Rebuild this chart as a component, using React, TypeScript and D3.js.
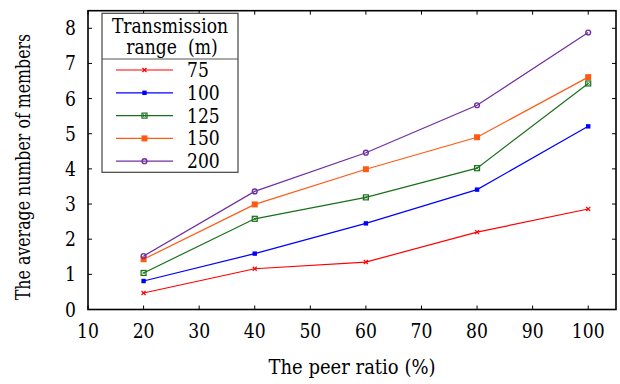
import React from "react";
import * as d3 from "d3";

const peerRatios = [20, 40, 60, 80, 100];
const range75 = [0.47, 1.16, 1.35, 2.2, 2.86];
const range100 = [0.81, 1.59, 2.45, 3.41, 5.21];
const range125 = [1.04, 2.58, 3.19, 4.02, 6.43];
const range150 = [1.43, 2.99, 3.99, 4.9, 6.61];
const range200 = [1.52, 3.36, 4.46, 5.81, 7.88];
const seriesLabels = ["75", "100", "125", "150", "200"];
const xTicks = [10, 20, 30, 40, 50, 60, 70, 80, 90, 100];
const yTicks = [0, 1, 2, 3, 4, 5, 6, 7, 8];

const W = 620;
const H = 384;
const FONT = '"DejaVu Serif", serif';
const SX = 0.86;

type Marker = "x" | "sq" | "osq" | "bsq" | "circ";
const seriesStyle: { color: string; marker: Marker }[] = [
  { color: "#ff0000", marker: "x" },
  { color: "#0000ff", marker: "sq" },
  { color: "#1a701a", marker: "osq" },
  { color: "#ff5a14", marker: "bsq" },
  { color: "#7030a0", marker: "circ" },
];

function MarkerShape({ x, y, type, color }: { x: number; y: number; type: Marker; color: string }) {
  switch (type) {
    case "x":
      return (
        <g stroke={color} strokeWidth={1.2}>
          <line x1={x - 2} y1={y - 2} x2={x + 2} y2={y + 2} />
          <line x1={x - 2} y1={y + 2} x2={x + 2} y2={y - 2} />
        </g>
      );
    case "sq":
      return <rect x={x - 2.2} y={y - 2.2} width={4.4} height={4.4} fill={color} />;
    case "osq":
      return (
        <g>
          <rect x={x - 2.5} y={y - 2.5} width={5} height={5} fill="none" stroke={color} strokeWidth={1.2} />
          <line x1={x - 1.5} y1={y - 1.5} x2={x + 1.5} y2={y + 1.5} stroke={color} strokeWidth={0.8} />
          <line x1={x - 1.5} y1={y + 1.5} x2={x + 1.5} y2={y - 1.5} stroke={color} strokeWidth={0.8} />
        </g>
      );
    case "bsq":
      return <rect x={x - 3} y={y - 3} width={6} height={6} fill={color} />;
    case "circ":
      return <circle cx={x} cy={y} r={2.4} fill="none" stroke={color} strokeWidth={1.4} />;
  }
}

function T({
  x,
  y,
  anchor = "start",
  size = 20,
  rotate = 0,
  sx = SX,
  children,
}: {
  x: number;
  y: number;
  anchor?: "start" | "middle" | "end";
  size?: number;
  rotate?: number;
  sx?: number;
  children: React.ReactNode;
}) {
  return (
    <text
      transform={`translate(${x},${y}) rotate(${rotate}) scale(${sx},1)`}
      textAnchor={anchor}
      fontSize={size}
      fill="#000"
      style={{ fontFamily: FONT, whiteSpace: "pre" }}
    >
      {children}
    </text>
  );
}

export default function App() {
  const x = d3.scaleLinear().domain([10, 105]).range([88, 616]);
  const y = d3.scaleLinear().domain([0, 8.5]).range([309.5, 10.7]);
  const all = [range75, range100, range125, range150, range200];
  const line = d3
    .line<number>()
    .x((_, i) => x(peerRatios[i]))
    .y((d) => y(d));

  const left = x(10);
  const right = x(105);
  const top = y(8.5);
  const bottom = y(0);
  const tickLen = 4;

  const lgX = 102;
  const lgY = 13.3;
  const lgW = 136;
  const lgH = 159;
  const lgDiv = 59;
  const entryY0 = 70;
  const entryDy = 22.8;

  return (
    <div style={{ position: "absolute", left: 0, top: 0 }}>
      <svg width={W} height={H} style={{ display: "block", background: "#fff", fontFamily: FONT }}>
        {all.map((vals, si) => (
          <g key={si}>
            <path d={line(vals) || ""} fill="none" stroke={seriesStyle[si].color} strokeWidth={1.2} />
            {vals.map((v, i) => (
              <MarkerShape key={i} x={x(peerRatios[i])} y={y(v)} type={seriesStyle[si].marker} color={seriesStyle[si].color} />
            ))}
          </g>
        ))}

        <g stroke="#000" strokeWidth={1}>
          {xTicks.map((t) => (
            <g key={"xt" + t}>
              <line x1={x(t)} x2={x(t)} y1={bottom} y2={bottom - tickLen} />
              <line x1={x(t)} x2={x(t)} y1={top} y2={top + tickLen} />
            </g>
          ))}
          {yTicks.map((t) => (
            <g key={"yt" + t}>
              <line x1={left} x2={left + tickLen} y1={y(t)} y2={y(t)} />
              <line x1={right} x2={right - tickLen} y1={y(t)} y2={y(t)} />
            </g>
          ))}
        </g>

        <rect x={left} y={top} width={right - left} height={bottom - top} fill="none" stroke="#000" strokeWidth={1.6} />

        {xTicks.map((t) => (
          <T key={"xl" + t} x={x(t)} y={338} anchor="middle" size={20}>
            {String(t)}
          </T>
        ))}
        {yTicks.map((t) => (
          <T key={"yl" + t} x={76} y={y(t) + 7} anchor="end" size={20}>
            {String(t)}
          </T>
        ))}

        <T x={(left + right) / 2} y={374} anchor="middle" size={20} sx={0.9}>
          The peer ratio (%)
        </T>
        <T x={30} y={167} anchor="middle" size={20} rotate={-90} sx={0.79}>
          The average number of members
        </T>

        <rect x={lgX} y={lgY} width={lgW} height={lgH} fill="#fff" stroke="#444" strokeWidth={1.2} />
        <line x1={lgX} x2={lgX + lgW} y1={lgDiv} y2={lgDiv} stroke="#555" strokeWidth={1.2} />
        <T x={lgX + lgW / 2} y={33} anchor="middle" size={20}>
          Transmission
        </T>
        <T x={lgX + lgW / 2 + 2} y={54} anchor="middle" size={20}>
          {"range  (m)"}
        </T>
        {seriesLabels.map((lab, i) => {
          const ey = entryY0 + i * entryDy;
          const st = seriesStyle[i];
          return (
            <g key={lab}>
              <line x1={116} x2={173} y1={ey} y2={ey} stroke={st.color} strokeWidth={1.2} />
              <MarkerShape x={144.5} y={ey} type={st.marker} color={st.color} />
              <T x={187} y={ey + 7} size={20}>
                {lab}
              </T>
            </g>
          );
        })}
      </svg>
    </div>
  );
}
